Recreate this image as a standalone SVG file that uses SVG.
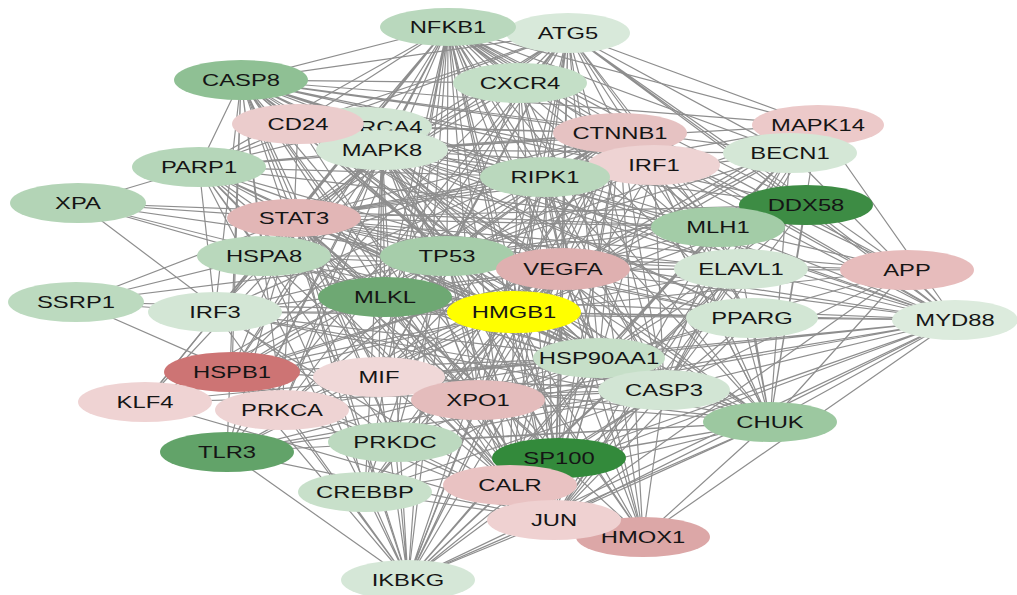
<svg xmlns="http://www.w3.org/2000/svg" width="1017" height="595" viewBox="0 0 1017 595">
<style>
.e{fill:none;stroke:#8e8e8e;stroke-width:1.2}
text{font-family:"Liberation Sans",Arial,sans-serif;font-size:17px;fill:#151515;text-anchor:middle}
</style>
<rect width="1017" height="595" fill="#fff"/>
<g id="connectors">
<path class="e" d="M514 312L448 27M514 312L568 33M514 312L520 83M514 312L241 80M514 312L363 127M514 312L298 124M514 312L382 150M514 312L620 133M514 312L654 165M514 312L545 177M514 312L818 125M514 312L790 153M514 312L199 167M514 312L78 203M514 312L294 218M514 312L264 256M514 312L447 256M514 312L563 269M514 312L385 297M514 312L806 205M514 312L718 227M514 312L741 269M514 312L907 270M514 312L752 318M514 312L955 320M514 312L76 302M514 312L215 312M514 312L599 358M514 312L664 390M514 312L232 372M514 312L379 377M514 312L478 400M514 312L145 402M514 312L282 410M514 312L770 422M514 312L227 452M514 312L395 442M514 312L559 458M514 312L365 492M514 312L510 485M514 312L554 520M514 312L643 537M514 312L408 580"/>
<path class="e" d="M448 27L520 83M448 27L241 80M448 27L363 127M448 27L298 124M448 27L382 150M448 27L620 133M448 27L654 165M448 27L545 177M448 27L818 125M448 27L790 153M448 27L199 167M448 27L294 218M448 27L264 256M448 27L447 256M448 27L563 269M448 27L385 297M448 27L806 205M448 27L718 227M448 27L741 269M448 27L907 270M448 27L752 318M448 27L955 320M448 27L215 312M448 27L599 358M448 27L664 390M448 27L232 372M448 27L379 377M448 27L478 400M448 27L145 402M448 27L282 410M448 27L770 422M448 27L227 452M448 27L395 442M448 27L559 458M448 27L365 492M448 27L510 485M448 27L554 520M448 27L643 537M448 27L408 580"/>
<path class="e" d="M568 33L241 80M568 33L298 124M568 33L382 150M568 33L620 133M568 33L545 177M568 33L818 125M568 33L790 153M568 33L199 167M568 33L294 218M568 33L264 256M568 33L447 256M568 33L563 269M568 33L385 297M568 33L806 205M568 33L718 227M568 33L741 269M568 33L907 270M568 33L752 318M568 33L955 320M568 33L599 358M568 33L664 390M568 33L232 372M568 33L379 377M568 33L478 400M568 33L282 410M568 33L770 422M568 33L227 452M568 33L559 458M568 33L510 485M568 33L554 520M568 33L643 537"/>
<path class="e" d="M447 256L241 80M447 256L520 83M447 256L363 127M447 256L298 124M447 256L382 150M447 256L620 133M447 256L654 165M447 256L545 177M447 256L818 125M447 256L790 153M447 256L199 167M447 256L78 203M447 256L294 218M447 256L264 256M447 256L563 269M447 256L385 297M447 256L806 205M447 256L718 227M447 256L741 269M447 256L907 270M447 256L752 318M447 256L76 302M447 256L215 312M447 256L599 358M447 256L664 390M447 256L232 372M447 256L379 377M447 256L478 400M447 256L145 402M447 256L282 410M447 256L770 422M447 256L395 442M447 256L559 458M447 256L365 492M447 256L510 485M447 256L554 520M447 256L643 537M447 256L408 580"/>
<path class="e" d="M294 218L241 80M294 218L520 83M294 218L298 124M294 218L382 150M294 218L620 133M294 218L654 165M294 218L545 177M294 218L818 125M294 218L790 153M294 218L199 167M294 218L78 203M294 218L264 256M294 218L563 269M294 218L385 297M294 218L806 205M294 218L718 227M294 218L741 269M294 218L907 270M294 218L752 318M294 218L955 320M294 218L76 302M294 218L215 312M294 218L599 358M294 218L664 390M294 218L232 372M294 218L379 377M294 218L478 400M294 218L145 402M294 218L282 410M294 218L770 422M294 218L227 452M294 218L395 442M294 218L559 458M294 218L365 492M294 218L510 485M294 218L554 520M294 218L643 537M294 218L408 580"/>
<path class="e" d="M554 520L241 80M554 520L520 83M554 520L298 124M554 520L382 150M554 520L620 133M554 520L654 165M554 520L545 177M554 520L818 125M554 520L790 153M554 520L199 167M554 520L264 256M554 520L563 269M554 520L385 297M554 520L718 227M554 520L741 269M554 520L907 270M554 520L752 318M554 520L955 320M554 520L215 312M554 520L599 358M554 520L664 390M554 520L232 372M554 520L379 377M554 520L478 400M554 520L145 402M554 520L282 410M554 520L770 422M554 520L227 452M554 520L395 442M554 520L365 492M554 520L408 580M554 520L643 537"/>
<path class="e" d="M241 80L520 83M241 80L382 150M241 80L620 133M241 80L654 165M241 80L545 177M241 80L818 125M241 80L790 153M241 80L199 167M241 80L264 256M241 80L563 269M241 80L385 297M241 80L806 205M241 80L718 227M241 80L741 269M241 80L752 318M241 80L955 320M241 80L215 312M241 80L599 358M241 80L664 390M241 80L232 372M241 80L379 377M241 80L478 400M241 80L282 410M241 80L770 422M241 80L227 452M241 80L395 442M241 80L559 458M241 80L510 485M241 80L408 580"/>
<path class="e" d="M408 580L770 422M408 580L955 320M408 580L227 452M408 580L545 177M408 580L382 150M408 580L365 492M408 580L395 442M408 580L215 312M408 580L654 165M408 580L718 227M408 580L510 485M408 580L478 400M408 580L379 377M408 580L282 410M408 580L232 372M408 580L620 133M408 580L664 390M408 580L806 205M408 580L599 358M408 580L563 269M408 580L559 458M408 580L741 269M408 580L264 256"/>
<path class="e" d="M955 320L227 452M955 320L770 422M955 320L215 312M955 320L654 165M955 320L818 125M955 320L382 150M955 320L545 177M955 320L907 270M955 320L752 318M955 320L741 269M955 320L806 205M955 320L718 227M955 320L790 153M955 320L620 133M955 320L664 390M955 320L599 358M955 320L563 269M955 320L478 400M955 320L510 485M955 320L643 537M955 320L559 458M955 320L379 377M955 320L385 297"/>
<path class="e" d="M770 422L227 452M770 422L545 177M770 422L382 150M770 422L654 165M770 422L620 133M770 422L818 125M770 422L790 153M770 422L806 205M770 422L718 227M770 422L741 269M770 422L907 270M770 422L752 318M770 422L599 358M770 422L664 390M770 422L563 269M770 422L478 400M770 422L510 485M770 422L559 458M770 422L643 537M770 422L395 442M770 422L365 492M770 422L379 377M770 422L215 312"/>
<path class="e" d="M78 203L199 167M78 203L395 442M78 203L718 227M78 203L264 256"/>
<path class="e" d="M76 302L215 312M76 302L395 442M76 302L264 256"/>
<path class="e" d="M199 167L382 150M199 167L298 124M199 167L363 127M199 167L545 177M199 167L718 227M199 167L395 442M199 167L478 400M199 167L620 133M199 167L264 256M199 167L385 297M199 167L599 358M199 167L664 390M199 167L365 492M199 167L215 312M199 167L563 269M199 167L510 485"/>
<path class="e" d="M382 150L520 83M382 150L620 133M382 150L654 165M382 150L545 177M382 150L818 125M382 150L790 153M382 150L264 256M382 150L563 269M382 150L385 297M382 150L806 205M382 150L718 227M382 150L741 269M382 150L907 270M382 150L752 318M382 150L215 312M382 150L599 358M382 150L664 390M382 150L232 372M382 150L379 377M382 150L478 400M382 150L145 402M382 150L282 410M382 150L227 452M382 150L365 492M382 150L510 485M382 150L643 537M382 150L559 458"/>
<path class="e" d="M620 133L520 83M620 133L298 124M620 133L363 127M620 133L545 177M620 133L563 269M620 133L385 297M620 133L718 227M620 133L741 269M620 133L907 270M620 133L752 318M620 133L215 312M620 133L599 358M620 133L664 390M620 133L232 372M620 133L379 377M620 133L478 400M620 133L145 402M620 133L282 410M620 133L395 442M620 133L559 458M620 133L365 492M620 133L510 485M620 133L643 537M620 133L264 256"/>
<path class="e" d="M563 269L520 83M563 269L298 124M563 269L545 177M563 269L818 125M563 269L790 153M563 269L264 256M563 269L385 297M563 269L718 227M563 269L741 269M563 269L907 270M563 269L752 318M563 269L215 312M563 269L599 358M563 269L664 390M563 269L232 372M563 269L379 377M563 269L478 400M563 269L145 402M563 269L282 410M563 269L395 442M563 269L559 458M563 269L365 492M563 269L510 485M563 269L643 537M563 269L227 452"/>
<path class="e" d="M599 358L520 83M599 358L298 124M599 358L545 177M599 358L818 125M599 358L790 153M599 358L264 256M599 358L385 297M599 358L806 205M599 358L718 227M599 358L741 269M599 358L907 270M599 358L752 318M599 358L215 312M599 358L664 390M599 358L232 372M599 358L379 377M599 358L478 400M599 358L145 402M599 358L282 410M599 358L395 442M599 358L559 458M599 358L365 492M599 358L510 485M599 358L643 537M599 358L227 452M599 358L363 127"/>
<path class="e" d="M664 390L520 83M664 390L298 124M664 390L545 177M664 390L654 165M664 390L818 125M664 390L790 153M664 390L264 256M664 390L385 297M664 390L806 205M664 390L718 227M664 390L741 269M664 390L907 270M664 390L752 318M664 390L215 312M664 390L232 372M664 390L379 377M664 390L478 400M664 390L145 402M664 390L282 410M664 390L395 442M664 390L559 458M664 390L365 492M664 390L510 485M664 390L643 537M664 390L227 452"/>
</g>
<g id="nodes">
<g id="n-ATG5"><ellipse cx="568" cy="33" rx="62" ry="20" fill="#d8e9da"/><text transform="translate(568 39) scale(1.4 1)">ATG5</text></g>
<g id="n-NFKB1"><ellipse cx="448" cy="27" rx="68" ry="19" fill="#b9d8bd"/><text transform="translate(448 33) scale(1.4 1)">NFKB1</text></g>
<g id="n-CXCR4"><ellipse cx="520" cy="83" rx="67" ry="20" fill="#c4dfc7"/><text transform="translate(520 89) scale(1.4 1)">CXCR4</text></g>
<g id="n-CASP8"><ellipse cx="241" cy="80" rx="67" ry="20" fill="#8fc094"/><text transform="translate(241 86) scale(1.4 1)">CASP8</text></g>
<g id="n-SMARCA4"><ellipse cx="365" cy="127" rx="67" ry="20" fill="#d1e5d3"/><text transform="translate(365 133) scale(1.4 1)">SMARCA4</text></g>
<g id="n-MAPK8"><ellipse cx="382" cy="150" rx="66" ry="20" fill="#d4e7d6"/><text transform="translate(382 156) scale(1.4 1)">MAPK8</text></g>
<g id="n-CD24"><ellipse cx="298" cy="124" rx="66" ry="20" fill="#ebcccc"/><text transform="translate(298 130) scale(1.4 1)">CD24</text></g>
<g id="n-CTNNB1"><ellipse cx="620" cy="133" rx="67" ry="20" fill="#e6c2c2"/><text transform="translate(620 139) scale(1.4 1)">CTNNB1</text></g>
<g id="n-IRF1"><ellipse cx="654" cy="165" rx="66" ry="20" fill="#eed3d3"/><text transform="translate(654 171) scale(1.4 1)">IRF1</text></g>
<g id="n-RIPK1"><ellipse cx="545" cy="177" rx="65" ry="20" fill="#bad8bd"/><text transform="translate(545 183) scale(1.4 1)">RIPK1</text></g>
<g id="n-MAPK14"><ellipse cx="818" cy="125" rx="66" ry="20" fill="#ecc9c9"/><text transform="translate(818 131) scale(1.4 1)">MAPK14</text></g>
<g id="n-BECN1"><ellipse cx="790" cy="153" rx="67" ry="20" fill="#d4e7d6"/><text transform="translate(790 159) scale(1.4 1)">BECN1</text></g>
<g id="n-PARP1"><ellipse cx="199" cy="167" rx="67" ry="20" fill="#b5d6b9"/><text transform="translate(199 173) scale(1.4 1)">PARP1</text></g>
<g id="n-XPA"><ellipse cx="78" cy="203" rx="68" ry="20" fill="#b3d4b6"/><text transform="translate(78 209) scale(1.4 1)">XPA</text></g>
<g id="n-STAT3"><ellipse cx="294" cy="218" rx="67" ry="19" fill="#e2b6b6"/><text transform="translate(294 224) scale(1.4 1)">STAT3</text></g>
<g id="n-HSPA8"><ellipse cx="264" cy="256" rx="67" ry="20" fill="#b9d8bc"/><text transform="translate(264 262) scale(1.4 1)">HSPA8</text></g>
<g id="n-TP53"><ellipse cx="447" cy="256" rx="67" ry="20" fill="#a6cdaa"/><text transform="translate(447 262) scale(1.4 1)">TP53</text></g>
<g id="n-VEGFA"><ellipse cx="563" cy="269" rx="67" ry="21" fill="#dfb0b0"/><text transform="translate(563 275) scale(1.4 1)">VEGFA</text></g>
<g id="n-MLKL"><ellipse cx="385" cy="297" rx="67" ry="20" fill="#6ea873"/><text transform="translate(385 303) scale(1.4 1)">MLKL</text></g>
<g id="n-HMGB1"><ellipse cx="514" cy="312" rx="67" ry="21" fill="#ffff00"/><text transform="translate(514 318) scale(1.4 1)">HMGB1</text></g>
<g id="n-DDX58"><ellipse cx="806" cy="205" rx="67" ry="20" fill="#3d8c44"/><text transform="translate(806 211) scale(1.4 1)">DDX58</text></g>
<g id="n-MLH1"><ellipse cx="718" cy="227" rx="67" ry="20" fill="#a3cca7"/><text transform="translate(718 233) scale(1.4 1)">MLH1</text></g>
<g id="n-ELAVL1"><ellipse cx="741" cy="269" rx="67" ry="20" fill="#d3e6d5"/><text transform="translate(741 275) scale(1.4 1)">ELAVL1</text></g>
<g id="n-APP"><ellipse cx="907" cy="270" rx="67" ry="20" fill="#e7bcbc"/><text transform="translate(907 276) scale(1.4 1)">APP</text></g>
<g id="n-PPARG"><ellipse cx="752" cy="318" rx="66" ry="20" fill="#d2e6d4"/><text transform="translate(752 324) scale(1.4 1)">PPARG</text></g>
<g id="n-MYD88"><ellipse cx="955" cy="320" rx="63" ry="20" fill="#dcebdd"/><text transform="translate(955 326) scale(1.4 1)">MYD88</text></g>
<g id="n-SSRP1"><ellipse cx="76" cy="302" rx="68" ry="20" fill="#bcdabf"/><text transform="translate(76 308) scale(1.4 1)">SSRP1</text></g>
<g id="n-IRF3"><ellipse cx="215" cy="312" rx="67" ry="20" fill="#d3e6d5"/><text transform="translate(215 318) scale(1.4 1)">IRF3</text></g>
<g id="n-HSP90AA1"><ellipse cx="599" cy="358" rx="66" ry="20" fill="#c6dfc8"/><text transform="translate(599 364) scale(1.4 1)">HSP90AA1</text></g>
<g id="n-CASP3"><ellipse cx="664" cy="390" rx="66" ry="20" fill="#d2e5d4"/><text transform="translate(664 396) scale(1.4 1)">CASP3</text></g>
<g id="n-HSPB1"><ellipse cx="232" cy="372" rx="68" ry="20" fill="#cd7474"/><text transform="translate(232 378) scale(1.4 1)">HSPB1</text></g>
<g id="n-KLF4"><ellipse cx="145" cy="402" rx="67" ry="20" fill="#efd3d3"/><text transform="translate(145 408) scale(1.4 1)">KLF4</text></g>
<g id="n-MIF"><ellipse cx="379" cy="377" rx="66" ry="20" fill="#f0d8d8"/><text transform="translate(379 383) scale(1.4 1)">MIF</text></g>
<g id="n-PRKCA"><ellipse cx="282" cy="410" rx="67" ry="20" fill="#eed3d3"/><text transform="translate(282 416) scale(1.4 1)">PRKCA</text></g>
<g id="n-XPO1"><ellipse cx="478" cy="400" rx="67" ry="20" fill="#e4bcbc"/><text transform="translate(478 406) scale(1.4 1)">XPO1</text></g>
<g id="n-CHUK"><ellipse cx="770" cy="422" rx="67" ry="20" fill="#9cc8a0"/><text transform="translate(770 428) scale(1.4 1)">CHUK</text></g>
<g id="n-TLR3"><ellipse cx="227" cy="452" rx="67" ry="20" fill="#62a369"/><text transform="translate(227 458) scale(1.4 1)">TLR3</text></g>
<g id="n-PRKDC"><ellipse cx="395" cy="442" rx="67" ry="20" fill="#bcd9bf"/><text transform="translate(395 448) scale(1.4 1)">PRKDC</text></g>
<g id="n-CREBBP"><ellipse cx="365" cy="492" rx="67" ry="20" fill="#c8e0ca"/><text transform="translate(365 498) scale(1.4 1)">CREBBP</text></g>
<g id="n-SP100"><ellipse cx="559" cy="458" rx="67" ry="20" fill="#338a3b"/><text transform="translate(559 464) scale(1.4 1)">SP100</text></g>
<g id="n-CALR"><ellipse cx="510" cy="485" rx="67" ry="20" fill="#e9c2c2"/><text transform="translate(510 491) scale(1.4 1)">CALR</text></g>
<g id="n-HMOX1"><ellipse cx="643" cy="537" rx="67" ry="20" fill="#dca7a7"/><text transform="translate(643 543) scale(1.4 1)">HMOX1</text></g>
<g id="n-JUN"><ellipse cx="554" cy="520" rx="67" ry="20" fill="#efd1d1"/><text transform="translate(554 526) scale(1.4 1)">JUN</text></g>
<g id="n-IKBKG"><ellipse cx="408" cy="580" rx="67" ry="20" fill="#d5e7d7"/><text transform="translate(408 586) scale(1.4 1)">IKBKG</text></g>
</g>
</svg>
